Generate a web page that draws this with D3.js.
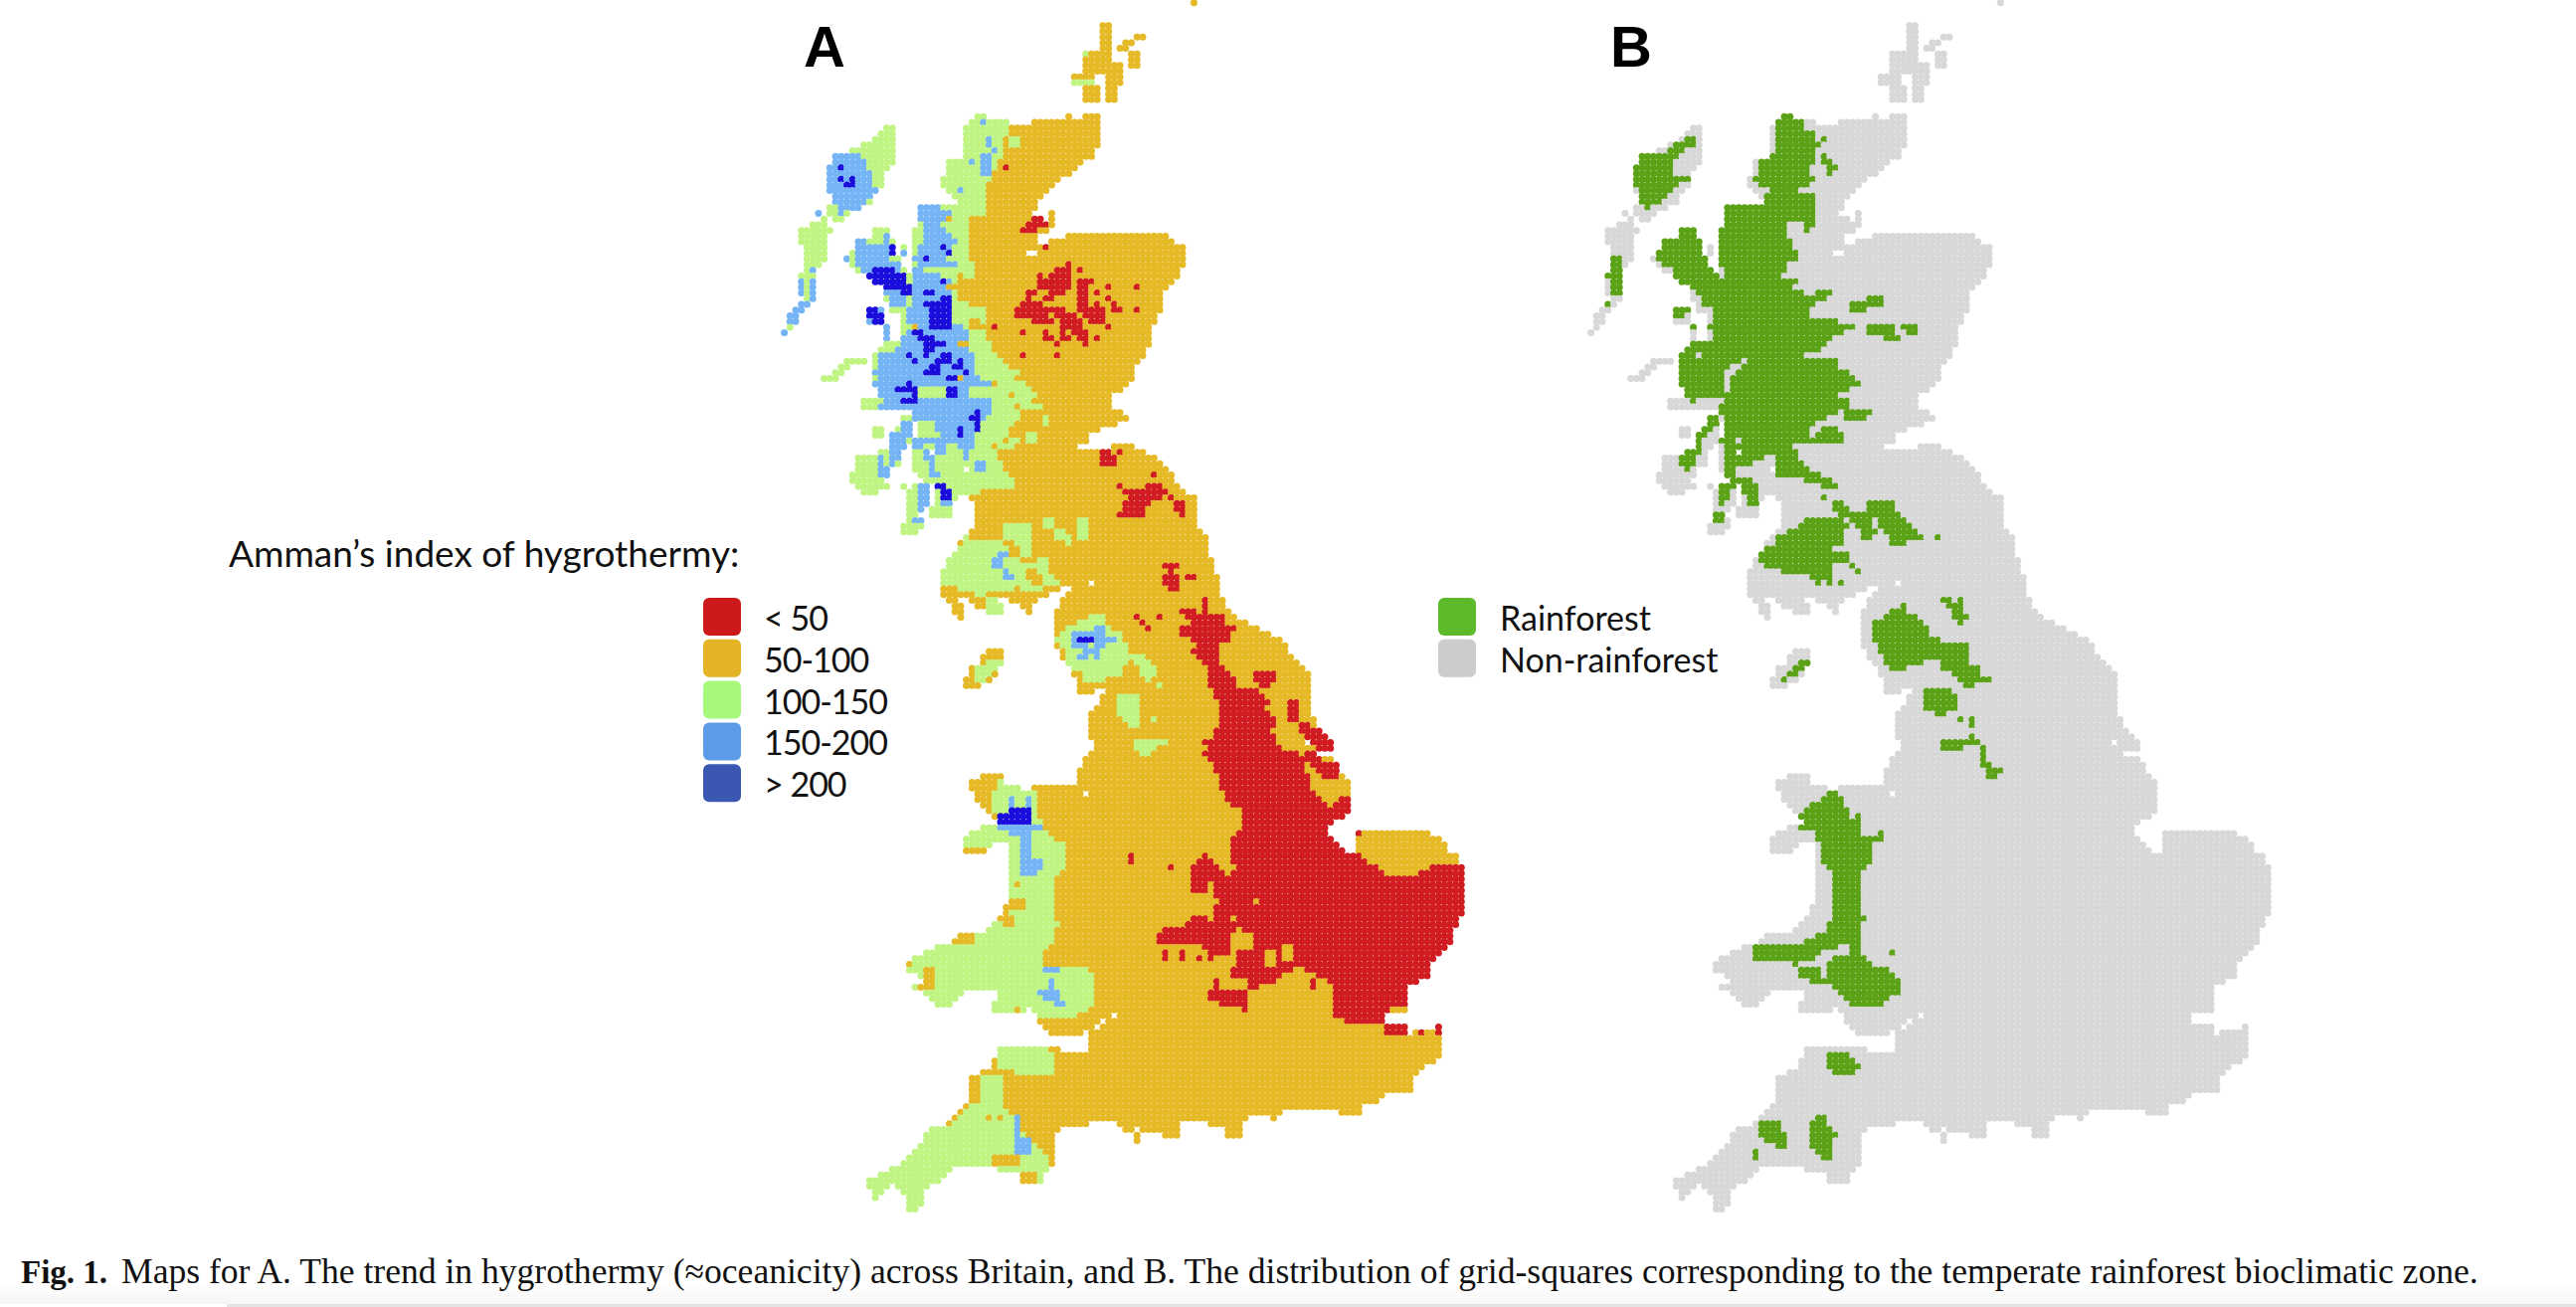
<!DOCTYPE html>
<html>
<head>
<meta charset="utf-8">
<script src="https://cdn.jsdelivr.net/npm/d3@7"></script>
<style>
  html, body { margin: 0; padding: 0; background: #fff; }
  svg { display: block; }
  .sans { font-family: Lato, "Open Sans", sans-serif; fill: #111; }
</style>
</head>
<body>
<svg width="2590" height="1314"></svg>
<script>
// Grid squares, each band is [firstRow, lastRow, firstCol, lastCol]
const landBands = [
[0,0,73,73],[4,5,57,58],[6,7,57,58],[6,6,63,64],[7,7,61,62],[8,8,60,61],[8,8,57,58],[9,11,62,63],[9,9,54,58],[10,12,54,58],[11,12,59,60],[13,14,52,55],[13,14,58,60],[15,17,54,56],[15,17,58,59],
[20,20,35,36],[20,20,51,51],[20,20,54,56],[21,21,34,40],[21,21,45,56],[22,22,33,56],[22,22,19,20],[23,25,33,56],[23,23,18,20],[24,24,17,20],[25,25,15,20],[26,26,33,55],[26,26,13,20],[27,27,33,55],[27,28,10,20],[28,28,30,53],[29,29,30,52],[29,29,9,19],[30,30,30,51],[30,32,9,18],[31,31,29,49],[32,32,29,48],[33,33,30,47],[33,33,9,17],[34,34,31,46],[34,35,10,16],[35,35,32,45],[36,36,25,45],[36,36,9,14],
[37,37,25,44],[37,37,48,48],[37,37,9,12],[37,37,7,7],[38,38,25,46],[38,38,48,48],[38,38,10,11],[38,38,8,8],[39,39,25,48],[39,39,6,8],[40,40,24,47],[40,40,4,9],[40,41,17,19],[41,41,24,45],[41,41,51,68],[41,42,4,8],[42,42,24,45],[42,42,48,69],[42,43,14,20],[43,43,24,71],[43,44,22,22],[43,45,5,8],[44,44,24,43],[44,44,46,71],[44,44,13,20],[45,45,24,71],[45,45,12,21],[46,46,24,71],[46,46,13,21],[46,46,5,7],[47,47,24,70],[47,47,14,22],[47,47,5,6],[48,48,24,70],[48,48,16,23],[48,51,4,6],[49,49,24,69],[49,49,17,23],
[50,50,19,68],[51,51,19,67],[52,52,19,67],[52,52,5,6],[53,54,20,67],[53,53,4,5],[54,54,3,4],[54,56,16,18],[55,56,22,66],[55,56,2,3],[57,59,22,65],[57,57,2,2],[57,59,19,19],[58,58,1,1],[60,60,19,65],[61,61,18,64],[62,62,17,64],[63,63,17,63],[63,63,14,15],[63,63,12,13],[64,64,17,62],[64,64,11,12],[65,65,17,62],[65,65,10,11],[66,66,17,62],[66,66,8,10],[67,67,17,61],[68,68,18,60],[69,69,18,58],[70,71,15,58],[72,72,24,60],[73,73,22,61],
[74,74,22,23],[74,74,25,59],[75,75,21,23],[75,75,25,56],[75,76,17,18],[76,76,20,23],[76,76,25,54],[77,77,20,23],[77,77,24,54],[78,78,20,22],[78,78,24,52],[78,78,59,62],[79,79,18,21],[79,79,24,26],[79,79,28,64],[80,80,14,21],[80,80,24,66],[81,81,14,21],[81,81,24,67],[82,82,14,19],[82,82,24,32],[82,82,34,68],[83,83,13,19],[83,83,25,69],[84,84,13,18],[84,84,26,69],[85,85,14,19],[85,85,22,22],[85,85,24,26],[85,85,28,70],[86,86,15,17],[86,86,23,26],[86,86,28,71],[87,88,23,26],[87,87,28,31],[87,87,34,73],[88,88,28,30],[88,88,35,73],[89,89,23,25],[89,90,27,30],[89,92,35,73],[90,90,23,24],[91,91,23,25],[92,92,22,25],[93,93,22,24],[93,93,34,74],
[94,94,33,75],[95,96,32,75],[97,97,31,75],[98,99,30,76],[100,100,29,76],[101,101,29,77],[102,102,29,54],[102,102,56,77],[103,103,29,49],[103,103,52,77],[104,104,29,38],[104,104,39,47],[104,104,51,77],[105,105,30,31],[105,105,34,38],[105,105,41,45],[105,105,50,78],[106,106,31,32],[106,106,35,39],[106,106,43,44],[106,106,50,78],[107,107,31,32],[107,107,37,39],[107,107,44,44],[107,107,49,79],[108,108,32,32],[108,108,49,80],[109,109,49,82],[110,110,49,84],[111,111,49,86],[112,112,49,88],[113,113,49,89],
[114,114,50,89],[114,114,37,39],[115,115,50,90],[115,116,36,39],[116,116,51,91],[117,117,52,92],[117,118,34,38],[118,118,52,93],[119,119,53,93],[119,119,33,37],[120,120,33,35],[120,120,53,55],[120,120,56,93],[121,121,53,55],[121,121,58,93],[122,123,57,93],[124,124,56,93],[125,125,55,93],[126,127,55,94],[128,128,55,95],[129,129,55,96],[130,130,56,92],[130,130,94,97],[131,131,56,97],[132,132,55,94],[133,133,54,97],[134,134,54,98],[135,135,53,98],[136,136,53,99],[136,136,36,39],[137,137,34,39],[137,137,53,100],[138,138,34,42],[138,138,45,100],[139,139,35,53],[139,139,55,100],[140,140,35,100],[141,141,36,100],[142,142,37,100],[143,143,38,99],[144,144,39,97],[145,145,36,96],[146,146,34,96],[146,146,102,114],[147,147,33,97],[147,147,102,116],[148,148,33,37],[148,148,41,98],[148,149,102,117],[149,149,33,36],[149,149,41,99],
[150,151,41,119],[152,158,41,120],[159,160,40,120],[161,161,39,119],[162,162,38,119],[163,163,37,118],[164,164,32,118],[165,165,31,118],[166,166,28,117],[167,167,26,116],[168,168,24,115],[169,170,23,114],[171,171,25,114],[172,172,26,112],[173,173,24,110],[174,174,26,32],[174,175,39,110],[175,175,27,31],[176,176,28,30],[176,176,38,110],[177,177,38,43],[177,177,45,110],[178,178,46,58],[178,178,60,106],[179,179,46,56],[179,179,58,106],[180,180,47,55],[180,180,57,110],[180,180,116,116],[181,181,48,53],[181,181,55,110],[181,181,112,116],[182,183,55,116],[184,184,39,49],[184,184,55,116],[185,185,39,116],[186,186,38,115],[187,187,38,113],[188,188,36,112],[189,191,34,111],[192,192,34,106],[193,193,34,105],[194,194,33,102],[195,195,32,88],[195,195,99,102],[196,196,31,82],[196,196,87,87],[197,197,30,54],[197,197,60,70],[197,197,76,81],[198,198,27,49],[198,198,61,62],[198,198,64,70],[198,198,79,81],[199,200,26,48],[199,200,63,63],[199,199,68,70],[199,199,79,81],[201,201,25,48],[202,202,24,48],[203,203,23,48],[204,204,22,48],[205,205,20,30],[205,205,39,47],[206,206,18,29],[206,207,43,46],[207,207,16,28],[208,208,16,19],[208,208,21,26],[209,209,17,18],[209,209,22,25],[210,210,17,17],[210,211,23,25],[212,212,23,24]
];

// Map A, 100-150
const greenBands = [
[9,9,54,54],[14,14,52,55],
[20,20,0,40],[21,23,0,40],[24,27,0,39],[28,29,0,38],[30,31,0,37],[32,37,0,36],[38,45,0,33],[46,48,0,34],[49,50,0,31],[51,51,0,32],[52,52,0,33],[53,56,0,36],[57,57,0,33],[58,59,0,36],[60,61,0,37],[62,62,0,38],[63,63,0,39],[64,64,0,40],[65,65,0,42],[66,66,0,41],[67,67,0,43],[68,68,0,44],[69,69,0,45],[70,70,0,44],[71,71,0,46],[72,73,0,42],[74,74,0,41],[75,76,0,40],[77,77,0,39],[78,78,0,37],[79,80,0,38],[81,82,0,39],[83,83,0,40],[84,85,0,41],[86,86,0,35],[87,94,0,33],
[24,25,41,42],[73,74,47,47],[76,77,44,45],[78,78,39,41],[77,77,41,42],
[91,92,47,48],[93,94,49,50],[94,95,51,51],[91,94,53,54],[92,94,40,44],[95,95,33,39],[95,95,42,44],[96,97,32,40],[96,97,43,44],[97,97,31,31],[98,98,30,42],[99,99,30,45],[98,100,46,47],[100,101,29,43],[101,101,47,48],[102,102,29,30],[102,102,31,38],[102,102,39,44],[102,102,47,49],[103,103,32,38],[103,103,39,41],[103,103,43,46],[104,104,35,36],[105,107,37,39],
[116,116,37,39],[117,117,35,38],[118,118,35,37],[119,119,35,36],
[108,108,55,57],[109,109,53,57],[110,110,51,58],[111,111,50,60],[112,112,49,60],[113,113,50,61],[114,114,51,61],[115,115,51,64],[116,116,51,61],[116,116,63,65],[117,117,52,60],[117,117,64,66],[118,118,54,60],[118,118,64,66],[119,119,54,57],[119,119,65,65],[120,120,67,67],[122,125,60,63],[126,126,61,63],[127,127,62,63],[126,126,66,66],[130,130,63,68],[131,131,63,66],[132,132,64,65],
[137,138,39,42],[139,142,38,45],[143,143,39,45],[144,145,34,46],[146,146,34,47],[147,147,33,48],[148,148,33,50],[149,152,41,50],[153,153,41,49],[154,161,41,48],[162,162,38,49],[163,163,37,48],[164,165,32,48],[166,166,28,47],[167,167,26,46],[168,169,24,46],[170,170,23,54],[171,176,24,55],[177,177,38,54],[178,178,46,52],
[184,184,39,47],[185,187,39,48],[188,188,42,48],[189,193,36,39],[194,194,34,39],[195,195,33,40],[196,196,32,41],[197,197,31,41],[198,198,27,42],[199,199,26,43],[200,200,26,44],[201,201,25,45],[202,202,24,46],[203,207,16,47],[208,212,16,26]
];

// Map A, 150-200
const blueBands = [
[21,21,36,36],[24,25,37,37],[26,26,38,38],[28,28,34,34],[27,30,36,37],[33,33,32,32],
[27,27,10,14],[28,29,9,15],[30,32,9,16],[33,33,9,17],[34,34,10,16],[35,35,10,15],[36,36,11,14],[37,37,11,11],
[37,37,7,7],[47,47,6,6],[49,51,4,4],[49,52,6,6],[53,53,4,5],[54,54,3,4],[55,56,2,3],[58,58,1,1],
[36,38,25,28],[37,38,29,30],[39,39,26,28],[40,40,26,29],[41,41,26,30],[42,42,26,31],[41,42,19,19],[42,42,14,15],[43,43,14,20],[44,44,14,19],[44,44,22,22],[45,45,12,12],[45,45,14,19],[46,46,14,21],[47,47,15,21],[48,50,16,22],[51,51,17,23],[52,53,20,22],
[43,44,25,30],[45,45,24,29],[46,46,25,31],[47,47,24,25],[48,48,24,28],[49,50,24,30],[51,53,24,30],[54,56,23,30],[57,57,24,32],[54,56,16,18],[57,59,19,19],
[58,58,23,33],[59,61,22,33],[61,61,21,21],[62,62,18,34],[63,64,18,34],[65,65,16,34],[66,66,18,35],[67,67,16,37],[68,68,18,24],[69,69,18,24],[70,70,19,24],[71,71,18,24],[68,69,30,33],[70,71,25,37],[72,72,24,37],[73,73,24,36],[74,74,28,35],[74,75,22,23],[75,75,28,35],[76,76,20,23],[76,76,29,34],[77,77,20,22],[77,77,24,29],[77,77,30,34],[78,78,20,22],[78,78,24,25],[78,78,28,29],[78,78,32,34],[79,79,20,21],[79,79,26,26],[79,79,28,29],[79,79,33,33],[80,80,18,18],[80,80,20,21],[80,80,26,27],[80,80,33,33],[81,81,18,18],[81,81,20,20],[81,81,27,27],[81,82,35,36],[82,82,18,19],[82,82,27,27],[83,83,18,19],[83,83,27,28],
[85,89,25,26],[88,88,29,30],[91,91,24,25],
[97,97,39,40],[98,99,38,39],[100,100,40,40],[101,101,40,41],
[110,110,56,57],[111,111,52,55],[111,111,56,57],[112,112,52,52],[112,112,56,59],[113,113,52,54],[113,113,56,57],[114,114,54,56],[115,115,53,54],[115,115,56,56],
[140,141,41,41],[140,141,44,44],[145,145,39,46],[146,146,41,44],[147,150,43,44],[151,152,43,46],[153,153,43,45],[170,170,47,49],[172,173,48,48],[174,174,46,49],[175,175,47,49],[176,176,49,50],[196,199,42,42],[200,202,42,44]
];

// Map A, > 200
const navyBands = [
[29,29,11,11],[31,31,11,11],[31,31,13,13],[32,32,12,13],[43,44,20,20],[43,43,29,29],[44,44,30,30],[45,45,26,26],
[47,47,17,20],[48,48,16,22],[49,49,17,22],[50,50,19,23],[51,51,22,23],[54,54,15,17],[55,55,16,18],[56,56,17,18],
[49,49,29,29],[51,51,26,27],[52,52,29,30],[53,53,26,26],[53,53,27,28],[53,53,29,30],[54,55,27,28],[54,55,29,30],[56,57,27,30],[58,58,24,25],[59,59,25,27],[60,60,26,29],[61,61,26,27],[62,62,23,23],[62,62,26,26],[62,62,29,30],[63,63,24,24],[63,63,28,30],[63,63,32,32],[64,64,27,28],[64,64,31,32],[65,65,26,27],[65,65,28,28],[65,65,33,33],[66,66,30,32],[67,67,23,23],[68,68,21,22],[68,68,23,24],[68,69,30,31],[69,69,24,24],[70,70,22,24],[72,72,35,35],[73,73,34,35],[74,74,35,35],[75,75,32,32],[75,75,35,35],[76,76,32,32],
[85,85,28,29],[86,87,29,30],[112,112,53,55],[142,142,41,44],[143,144,39,44]
];

// Map A, < 50
const redBands = [
[29,29,40,40],[38,38,45,46],[39,39,44,47],[40,40,43,45],[43,43,47,47],
[46,46,51,51],[47,47,49,51],[47,47,53,53],[48,48,46,46],[48,48,48,51],[49,49,46,51],[49,49,53,55],[50,50,46,46],[50,50,47,51],[50,50,53,54],[50,50,58,58],[50,50,63,63],[51,51,44,45],[51,51,48,50],[51,51,53,54],[51,51,56,56],[52,52,44,44],[52,52,47,48],[52,52,53,54],[52,52,58,58],[53,53,43,46],[53,53,53,54],[53,53,56,56],[53,53,59,59],[54,54,42,46],[54,54,47,50],[54,54,53,57],[54,54,59,60],[54,54,63,63],[55,55,42,47],[55,55,49,52],[55,55,54,57],[56,56,45,48],[56,56,50,53],[56,56,55,57],[57,57,38,38],[57,57,50,53],[57,57,58,58],[58,58,43,43],[58,58,47,47],[58,58,50,50],[58,58,52,54],[59,59,47,48],[59,59,50,51],[59,59,53,54],[59,59,56,56],[60,60,49,49],[60,60,54,54],[62,62,43,43],[62,62,49,49],
[79,79,57,58],[79,79,60,60],[80,81,57,59],[83,83,66,66],[85,85,60,60],[85,85,65,67],[86,86,61,68],[87,87,62,67],[87,87,69,69],[88,88,61,65],[88,89,70,71],[89,89,61,64],[90,90,60,64],[90,90,71,71],
[99,99,68,70],[100,100,69,69],[101,101,68,70],[101,101,72,73],[102,102,68,70],[103,103,69,70],[108,108,63,63],[109,109,64,64],[110,110,65,65],[108,108,67,67],
[105,106,75,75],[107,107,71,73],[107,107,75,75],[108,108,72,78],[109,109,73,78],[110,110,71,80],[111,111,71,79],[112,112,73,79],[113,113,74,77],[114,114,73,77],[115,115,74,77],[116,116,75,77],[117,117,76,78],[118,118,76,79],[118,119,84,87],[119,119,76,80],[120,120,76,80],[120,120,85,86],[121,121,77,84],[122,122,77,85],[123,123,78,86],[123,126,90,91],[124,124,78,85],[125,125,78,86],[126,127,78,87],[127,127,92,93],[128,128,77,86],[128,128,92,95],[129,129,77,87],[129,129,93,96],[130,130,75,87],[130,130,94,97],[131,131,76,88],[131,131,95,98],[132,132,75,88],[132,132,89,91],[132,133,93,95],[133,133,76,88],[133,133,89,92],[134,134,77,92],[134,134,94,98],[135,135,77,92],[135,135,95,98],[136,138,78,93],[136,136,96,98],[139,139,79,94],[140,140,79,95],[140,140,99,100],[141,141,80,96],[141,141,98,100],[142,142,82,100],[143,143,82,99],[144,144,82,98],[145,145,82,97],[146,146,81,97],[146,146,102,102],
[147,147,80,97],[148,148,80,99],[149,149,80,100],[150,150,75,75],[150,150,80,102],[151,151,74,76],[151,151,80,103],[152,152,73,77],[152,152,81,105],[152,152,115,120],[153,153,73,78],[153,153,80,106],[153,153,113,120],[154,154,73,120],[155,156,73,75],[155,156,77,120],[157,160,77,120],[161,161,73,75],[161,161,77,119],[162,162,72,119],[163,163,68,80],[163,163,82,118],[164,165,67,79],[164,165,84,118],[166,166,75,80],[166,166,83,117],[167,167,76,79],[167,167,81,116],[167,168,68,68],[167,168,71,71],[168,168,74,74],[168,168,76,76],[168,168,81,115],[169,169,81,114],[170,170,80,90],[170,170,93,115],[171,171,80,88],[171,171,95,114],[172,172,83,87],[172,172,97,112],[172,173,94,94],[172,173,77,77],[173,173,83,84],[173,173,98,110],[174,175,76,82],[174,175,98,110],[176,176,78,82],[176,176,98,110],[177,177,82,82],[177,177,98,107],[178,178,98,107],[179,179,100,110],[180,180,107,111],[180,180,113,116],[181,181,107,110],[181,181,113,113],[181,181,116,116],
[150,151,62,62],[152,152,69,69]
];

// Small 50-100 spots lying inside the other classes
const amberSpots = [
[38,38,30,30],[39,39,35,36],[41,44,34,34],[48,48,32,32],[50,50,30,31],[51,52,32,33],[53,53,34,36],[56,57,34,35],[57,57,24,24],[60,60,32,33],[66,66,32,32],[67,67,38,38],[69,69,41,41],[71,71,42,42],
[155,155,42,42],[158,159,41,43],[161,162,40,41],[164,165,32,34],[170,171,26,27],[172,173,25,27],[177,177,42,42],[178,178,45,45],[158,158,77,77],[158,158,84,84],[161,161,80,80],[163,163,81,81],[164,166,80,83],[167,169,86,87],[166,168,89,90],
[196,196,37,37],[196,196,39,39],[201,202,47,48],[203,204,38,42],[206,207,42,45]
];

// Rainforest squares of map B
const rainforestBands = [
[24,24,18,19],[25,25,16,19],[26,26,9,12],[26,26,15,17],[27,27,9,14],[27,27,15,16],[28,30,9,15],[31,31,8,18],[32,32,9,16],[33,33,10,15],[34,34,10,14],[35,35,9,13],[36,36,11,11],
[45,47,5,6],[48,48,4,6],[49,51,5,6],[52,52,4,4],[53,53,3,4],
[20,20,35,36],[21,22,34,38],[23,23,34,40],[24,24,34,40],[24,24,42,42],[25,25,34,41],[26,26,34,40],[27,27,31,40],[27,27,42,42],[28,28,31,40],[28,28,42,43],[29,29,31,39],[29,29,43,44],[30,30,31,39],[30,30,43,43],[31,31,30,40],[32,32,31,39],[33,33,33,37],[34,34,32,40],[35,35,24,26],[35,35,28,40],[36,38,24,40],[39,39,17,19],[39,39,24,35],[39,39,39,40],[40,40,17,19],[40,40,24,35],[40,40,39,39],[41,41,14,15],[41,41,17,20],[41,41,24,35],[42,42,14,20],[42,42,22,22],[42,42,24,36],[43,43,13,21],[43,43,23,36],[44,44,13,21],[44,44,23,37],[45,45,13,22],[45,45,23,37],[46,46,14,22],[46,46,24,35],[47,47,16,22],[47,47,25,35],[48,48,16,23],[48,48,25,34],[49,49,17,24],[49,49,25,37],[50,50,17,36],[51,51,20,24],[51,51,25,38],[51,51,41,43],[52,52,21,23],[52,52,24,42],[52,52,50,52],[53,53,15,17],[53,53,21,22],[53,53,23,40],[53,53,47,52],[54,54,15,18],[54,54,23,39],[54,54,47,49],[55,55,16,17],[55,55,23,39],[56,56,19,19],[56,56,23,44],[57,57,19,19],[57,57,22,47],[57,57,50,54],[57,57,56,58],[58,58,23,45],[58,58,50,54],[58,58,57,58],[59,59,23,43],[59,59,53,55],[60,60,17,42],[61,61,17,41],[61,61,14,15],[62,62,17,19],[62,62,21,38],[63,63,16,27],[63,63,29,44],[64,64,16,25],[64,64,28,44],[65,65,16,24],[65,65,27,46],[66,66,17,24],[66,66,26,47],[67,67,17,24],[67,67,26,48],[68,68,17,24],[68,68,26,46],[69,69,17,24],[69,69,25,44],[70,70,19,19],[70,70,25,46],[71,71,24,46],[72,72,24,44],[72,72,46,50],[73,73,22,23],[73,73,25,42],[73,73,46,49],[74,74,21,23],[74,74,25,40],[75,75,20,22],[75,75,25,39],[75,75,42,44],[76,76,19,21],[76,76,25,39],[76,76,41,45],[77,77,18,20],[77,77,24,26],[77,77,28,38],[77,77,39,45],[78,78,17,20],[78,78,25,36],[79,79,17,20],[79,79,25,37],[80,80,17,19],[80,80,25,31],[80,80,34,37],[81,81,17,19],[81,81,25,29],[81,81,34,38],[82,82,18,18],[82,82,25,26],[82,82,34,39],[83,83,25,26],[83,83,34,41],[84,84,24,29],[84,84,39,43],[85,85,24,30],[85,85,42,44],[86,86,24,25],[86,86,27,30],[87,87,24,25],[87,87,29,30],[87,87,42,42],[88,88,24,24],[88,88,29,30],[88,88,44,45],[88,88,50,54],[89,89,44,46],[89,89,50,54],[90,90,22,25],[90,90,45,51],[90,90,52,55],[91,91,22,24],[91,91,39,45],[91,91,47,50],[91,91,52,56],[92,92,38,46],[92,92,48,50],[92,92,52,57],[93,93,36,45],[93,93,49,51],[93,93,53,58],[94,94,34,45],[94,94,49,50],[94,94,54,59],[94,94,62,62],[95,95,34,45],[95,95,54,56],[96,96,32,43],[97,98,31,46],[99,99,32,43],[99,99,47,47],[100,100,35,43],[100,100,48,48],[101,101,40,43],[102,102,41,41],[102,102,43,43],[102,102,45,45],
[105,105,63,64],[105,105,66,66],[106,106,64,66],[107,107,65,66],[108,108,65,67],[109,109,66,66],[106,106,56,56],[107,107,54,56],[108,108,53,58],[109,109,51,59],[110,111,51,60],[112,112,51,62],[113,114,52,67],[115,115,53,67],[116,116,53,59],[116,116,63,67],[117,117,54,56],[117,117,63,69],[118,118,65,69],[119,119,66,71],[120,120,67,68],[116,116,38,39],[117,117,37,38],[118,118,36,37],[119,119,35,35],
[121,121,60,64],[122,124,60,65],[125,125,62,63],[126,126,66,66],[126,127,68,68],[129,129,68,68],[130,130,63,69],[131,131,63,66],[131,133,70,70],[134,134,70,71],[135,135,71,73],[136,136,71,72],
[139,139,43,44],[140,140,42,45],[141,141,40,45],[142,142,39,46],[143,143,38,46],[143,143,48,48],[144,145,38,48],[146,146,41,48],[146,146,52,52],[147,147,41,52],[148,151,42,50],[152,152,43,49],[153,153,44,48],[154,160,44,48],[161,161,44,49],[162,163,43,48],[164,164,41,48],[165,165,39,48],[166,166,30,44],[166,167,47,48],[167,167,30,41],[167,167,54,54],[168,168,30,40],[168,168,44,49],[169,169,37,37],[169,169,43,50],[170,170,38,41],[170,170,43,53],[171,171,38,41],[171,171,43,54],[172,172,40,55],[173,173,44,55],[174,174,45,55],[175,175,46,53],[176,176,47,52],
[185,185,43,46],[186,186,43,47],[187,187,43,48],[188,188,44,47],[196,196,41,42],[197,197,40,42],[197,198,31,34],[198,198,40,43],[199,199,31,35],[199,199,40,44],[200,200,32,35],[200,200,40,43],[201,201,34,35],[201,201,40,43],[202,202,41,43],[203,203,42,43],[202,203,30,30]
];

const hygroLabels = ["< 50", "50-100", "100-150", "150-200", "> 200"];
const hygroSwatches = ["#cc1a1c", "#e5b326", "#a8f87c", "#5b9be8", "#3a58b2"];
const zoneLabels = ["Rainforest", "Non-rainforest"];
const zoneSwatches = ["#5dbb2a", "#cccccc"];

const cellClasses = ["amber", "green", "blue", "navy", "red", "gray", "forest"];
const cellColours = ["#e6b927", "#c0f583", "#74b4f5", "#1a10dc", "#d01f20", "#d8d8d8", "#5ba216"];

// Set up the grid
let cell = 5.72;
let rows = d3.range(213);
let cols = d3.range(123);
let svg = d3.select("svg");

let yScale = d3.scaleBand().domain(rows).range([0, rows.length * cell]);
let xScale = d3.scaleBand().domain(cols).range([0, cols.length * cell]);
let colour = d3.scaleOrdinal().domain(cellClasses).range(cellColours);

let defs = svg.append("defs");
defs.append("filter").attr("id", "soft")
    .attr("x", "-2%").attr("y", "-2%").attr("width", "104%").attr("height", "104%")
    .append("feGaussianBlur").attr("stdDeviation", 0.6);
let fadeGrad = defs.append("linearGradient").attr("id", "fade").attr("x1", 0).attr("x2", 0).attr("y1", 0).attr("y2", 1);
fadeGrad.append("stop").attr("offset", 0).attr("stop-color", "#ffffff");
fadeGrad.append("stop").attr("offset", 1).attr("stop-color", "#f6f6f6");

// Paint bands onto land squares only, later layers win
function paint(grid, bands, name, onlyLand) {
    bands.forEach(function(b) {
        for (let r = b[0]; r <= b[1]; ++r) {
            for (let c = b[2]; c <= b[3]; ++c) {
                let key = r + "," + c;
                if (!onlyLand || grid.has(key)) grid.set(key, name);
            }
        }
    });
}

function toCells(grid) {
    return Array.from(grid, function(d) {
        let p = d[0].split(",");
        return { row: +p[0], col: +p[1], name: d[1] };
    });
}

function drawMap(originX, cells) {
    svg.append("g")
        .attr("transform", "translate(" + originX + ",0)")
        .attr("filter", "url(#soft)")
        .selectAll("circle")
        .data(cells)
        .enter().append("circle")
        .attr("cx", function(d) { return xScale(d.col) + xScale.bandwidth() / 2; })
        .attr("cy", function(d) { return yScale(d.row) + yScale.bandwidth() / 2; })
        .attr("r", 3.5)
        .attr("fill", function(d) { return colour(d.name); });
}

// Map A
let gridA = new Map();
paint(gridA, landBands, "amber", false);
paint(gridA, greenBands, "green", true);
paint(gridA, blueBands, "blue", true);
paint(gridA, navyBands, "navy", true);
paint(gridA, redBands, "red", true);
paint(gridA, amberSpots, "amber", true);
drawMap(780, toCells(gridA));

// Map B
let gridB = new Map();
paint(gridB, landBands, "gray", false);
paint(gridB, rainforestBands, "forest", true);
drawMap(1591, toCells(gridB));

// Panel letters
svg.selectAll("text.panel")
    .data([{ t: "A", x: 829 }, { t: "B", x: 1640 }])
    .enter().append("text")
    .attr("class", "panel")
    .attr("x", function(d) { return d.x; })
    .attr("y", 67)
    .attr("text-anchor", "middle")
    .attr("font-family", "'Liberation Sans', Arial, sans-serif")
    .attr("font-weight", "bold")
    .attr("font-size", 58)
    .attr("fill", "#000")
    .text(function(d) { return d.t; });

// Legends
svg.append("text").attr("class", "sans")
    .attr("x", 230).attr("y", 570)
    .attr("font-size", 37)
    .text("Amman\u2019s index of hygrothermy:");

function legend(labels, swatches, boxX, textX, spacing) {
    let g = svg.append("g");
    g.selectAll("rect")
        .data(labels)
        .enter().append("rect")
        .attr("x", boxX)
        .attr("y", function(d, i) { return 601 + i * 41.8; })
        .attr("width", 38)
        .attr("height", 38)
        .attr("rx", 6)
        .attr("fill", function(d, i) { return swatches[i]; });
    g.selectAll("text")
        .data(labels)
        .enter().append("text")
        .attr("class", "sans")
        .attr("x", textX)
        .attr("y", function(d, i) { return 634 + i * 41.8; })
        .attr("font-size", 34)
        .attr("letter-spacing", spacing)
        .text(function(d) { return d; });
}

legend(hygroLabels, hygroSwatches, 707, 768, -1);
legend(zoneLabels, zoneSwatches, 1446, 1508, 0);

// Caption
svg.append("rect").attr("x", 0).attr("y", 1290).attr("width", 2590).attr("height", 21).attr("fill", "url(#fade)");
svg.append("rect").attr("x", 228).attr("y", 1311).attr("width", 2362).attr("height", 3).attr("fill", "#e4e4e4");

let caption = svg.append("text")
    .attr("x", 21).attr("y", 1290)
    .attr("font-family", "'Liberation Serif', serif")
    .attr("fill", "#111");
caption.append("tspan").attr("font-weight", "bold").attr("font-size", 33).text("Fig. 1.");
caption.append("tspan").attr("x", 122).attr("font-size", 35.6).text("Maps for A. The trend in hygrothermy (\u2248oceanicity) across Britain, and B. The distribution of grid-squares corresponding to the temperate rainforest bioclimatic zone.");
</script>
</body>
</html>
